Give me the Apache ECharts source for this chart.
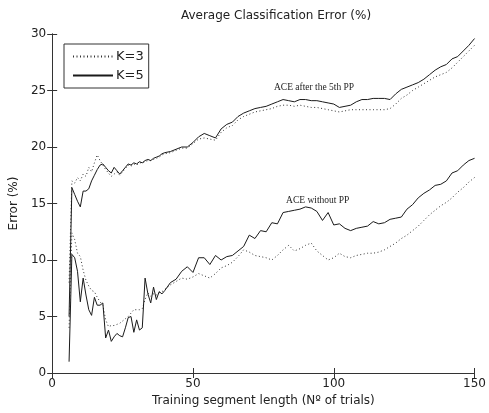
<!DOCTYPE html>
<html>
<head>
<meta charset="utf-8">
<script src="https://cdn.jsdelivr.net/npm/echarts@6/dist/echarts.min.js"></script>
<style>html,body{margin:0;padding:0;background:#fff}#c{width:489px;height:413px}</style>
</head>
<body>
<div id="c"></div>
<script>
// Training segment length (x) shared by all series
var xs = [6,7,8,9,10,11,12,13,14,15,16,17,18,19,20,21,22,23,24,25,26,27,28,29,30,31,32,33,34,35,36,37,38,39,40,
  42,44,46,48,50,52,54,56,58,60,62,64,66,68,70,72,74,76,78,80,82,84,86,88,90,92,94,96,98,100,
  102,104,106,108,110,112,114,116,118,120,122,124,126,128,130,132,134,136,138,140,142,144,146,148,150];

// ACE after the 5th PP, K=5 (solid)
var afterK5 = [5,16.4,15.8,15.2,14.7,16.1,16.1,16.3,17.0,17.5,18.0,18.4,18.5,18.2,17.9,17.7,18.2,17.9,17.6,17.9,18.2,18.5,18.4,18.6,18.5,18.7,18.6,18.8,18.9,18.8,19.0,19.1,19.2,19.4,19.5,
  19.6,19.8,20.0,20.0,20.4,20.9,21.2,21.0,20.8,21.6,22.0,22.2,22.7,23.0,23.2,23.4,23.5,23.6,23.8,24.0,24.2,24.1,24.0,24.2,24.2,24.1,24.1,24.0,23.9,23.8,
  23.5,23.6,23.7,24.0,24.2,24.2,24.3,24.3,24.3,24.2,24.7,25.1,25.3,25.5,25.7,26.0,26.4,26.8,27.1,27.3,27.8,28.0,28.5,29.0,29.6];

// ACE after the 5th PP, K=3 (dotted)
var afterK3 = [8,17.0,16.8,17.3,17.0,17.6,17.4,18.2,17.8,18.6,19.3,18.8,18.4,18.0,17.7,17.4,17.6,17.8,17.5,17.8,18.1,18.4,18.3,18.5,18.4,18.6,18.6,18.7,18.8,18.8,18.9,19.0,19.1,19.3,19.4,
  19.5,19.7,19.9,19.9,20.3,20.7,20.8,20.7,20.6,21.3,21.7,21.9,22.4,22.7,22.9,23.1,23.2,23.3,23.4,23.6,23.7,23.7,23.6,23.7,23.6,23.5,23.5,23.4,23.3,23.2,
  23.1,23.2,23.3,23.3,23.3,23.3,23.3,23.3,23.3,23.4,23.8,24.3,24.6,25.0,25.3,25.6,25.9,26.2,26.4,26.6,27.0,27.5,28.0,28.5,29.0];

// ACE without PP, K=5 (solid)
var withoutK5 = [1,10.5,10.2,9.0,6.3,8.4,6.9,5.6,5.1,6.7,6.0,6.0,6.2,3.1,3.8,2.8,3.2,3.5,3.3,3.2,4.0,4.9,5.0,3.6,4.7,3.8,4.0,8.4,7.0,6.2,7.6,6.5,7.2,7.0,7.3,
  8.0,8.3,9.0,9.4,8.9,10.2,10.2,9.6,10.4,10.0,10.3,10.4,10.8,11.2,12.2,11.9,12.6,12.5,13.3,13.2,14.2,14.3,14.4,14.5,14.7,14.6,14.3,13.5,14.2,13.1,
  13.2,12.8,12.6,12.8,12.9,13.0,13.4,13.2,13.3,13.6,13.7,13.8,14.5,14.9,15.5,15.9,16.2,16.6,16.7,17.0,17.7,17.9,18.4,18.8,19.0];

// ACE without PP, K=3 (dotted)
var withoutK3 = [4,12.4,11.8,10.6,10.3,9.1,8.2,7.7,7.3,7.2,6.7,6.3,6.0,4.7,4.1,4.2,4.2,4.3,4.4,4.6,4.8,5.0,5.3,5.6,5.6,5.6,5.7,6.5,7.1,6.8,7.0,6.9,7.1,7.2,7.4,
  7.8,8.1,8.4,8.3,8.5,8.8,8.6,8.4,8.8,9.3,9.5,9.8,10.3,10.9,10.7,10.4,10.3,10.2,10.0,10.4,10.9,11.3,10.8,11.0,11.3,11.5,10.8,10.4,10.0,10.2,
  10.6,10.3,10.2,10.4,10.5,10.6,10.6,10.7,10.9,11.2,11.5,11.9,12.2,12.6,13.0,13.5,14.0,14.4,14.8,15.1,15.5,16.0,16.4,16.9,17.3];

var xTicks = [0, 50, 100, 150];
var yTicks = [0, 5, 10, 15, 20, 25, 30];
var annotations = [
  {text: 'ACE after the 5th PP', x: 93, y: 25.3},
  {text: 'ACE without PP', x: 94.3, y: 15.3}
];

function pairs(ys){ return xs.map(function(x,i){ return [x, ys[i]]; }); }

var font = 'DejaVu Sans, Verdana, sans-serif';
var solidStyle = {color:'#1a1a1a', width:1, type:'solid'};
var dotStyle = {color:'#333', width:1, type:[1,2.5]};

function lineSeries(name, ys, style, ann){
  var s = {
    name: name, type: 'line', data: pairs(ys), showSymbol: false, symbol: 'none',
    lineStyle: style, itemStyle: {color: style.color}, animation: false, z: 3
  };
  if (ann) {
    s.markPoint = {
      symbol: 'circle', symbolSize: 0, silent: true, animation: false,
      label: {show: true, formatter: ann.text, color: '#222', fontFamily: 'Liberation Serif, Times New Roman, serif', fontSize: 9.5, position: 'inside'},
      data: [{coord: [ann.x, ann.y]}]
    };
  }
  return s;
}

var chart = echarts.init(document.getElementById('c'), null, {renderer: 'canvas'});
var axisLineStyle = {color: '#333', width: 1};
chart.setOption({
  backgroundColor: '#fff',
  animation: false,
  title: {
    text: 'Average Classification Error (%)', left: 271, top: 5, textAlign: 'center',
    textStyle: {fontFamily: font, fontSize: 12, fontWeight: 'normal', color: '#222'}
  },
  legend: {
    left: 64, top: 44, orient: 'vertical', data: ['K=3', 'K=5'],
    borderColor: '#333', borderWidth: 1, backgroundColor: '#fff',
    padding: [6, 5, 6, 8], itemGap: 6, itemWidth: 40, itemHeight: 12,
    itemStyle: {opacity: 0},
    textStyle: {fontFamily: font, fontSize: 13, color: '#222', padding: [0,0,0,-2]},
    selectedMode: false
  },
  grid: {left: 51, right: 7, top: 34, bottom: 40, containLabel: false},
  xAxis: [{
    type: 'value', min: xTicks[0], max: xTicks[xTicks.length-1], interval: 50,
    name: 'Training segment length (Nº of trials)', nameLocation: 'middle', nameGap: 20,
    nameTextStyle: {fontFamily: font, fontSize: 12, color: '#222'},
    axisLine: {show: true, lineStyle: axisLineStyle},
    axisTick: {show: true, inside: true, length: 5, lineStyle: axisLineStyle},
    axisLabel: {fontFamily: font, fontSize: 12, color: '#222', margin: 5, showMaxLabel: true},
    splitLine: {show: false}
  }, {
    type: 'value', position: 'top', min: xTicks[0], max: xTicks[xTicks.length-1], interval: 50,
    axisLine: {show: true, lineStyle: axisLineStyle},
    axisTick: {show: true, inside: true, length: 5, lineStyle: axisLineStyle},
    axisLabel: {show: false}, splitLine: {show: false}
  }],
  yAxis: [{
    type: 'value', min: yTicks[0], max: yTicks[yTicks.length-1], interval: 5,
    name: 'Error (%)', nameLocation: 'middle', nameGap: 24, nameRotate: 90,
    nameTextStyle: {fontFamily: font, fontSize: 12, color: '#222'},
    axisLine: {show: true, lineStyle: axisLineStyle},
    axisTick: {show: true, inside: true, length: 5, lineStyle: axisLineStyle},
    axisLabel: {fontFamily: font, fontSize: 12, color: '#222', margin: 6},
    splitLine: {show: false}
  }, {
    type: 'value', position: 'right', min: yTicks[0], max: yTicks[yTicks.length-1], interval: 5,
    axisLine: {show: true, lineStyle: axisLineStyle},
    axisTick: {show: true, inside: true, length: 5, lineStyle: axisLineStyle},
    axisLabel: {show: false}, splitLine: {show: false}
  }],
  series: [
    lineSeries('K=3', afterK3, dotStyle),
    lineSeries('K=5', afterK5, solidStyle, annotations[0]),
    lineSeries('K=3', withoutK3, dotStyle),
    lineSeries('K=5', withoutK5, solidStyle, annotations[1])
  ]
});
</script>
</body>
</html>
